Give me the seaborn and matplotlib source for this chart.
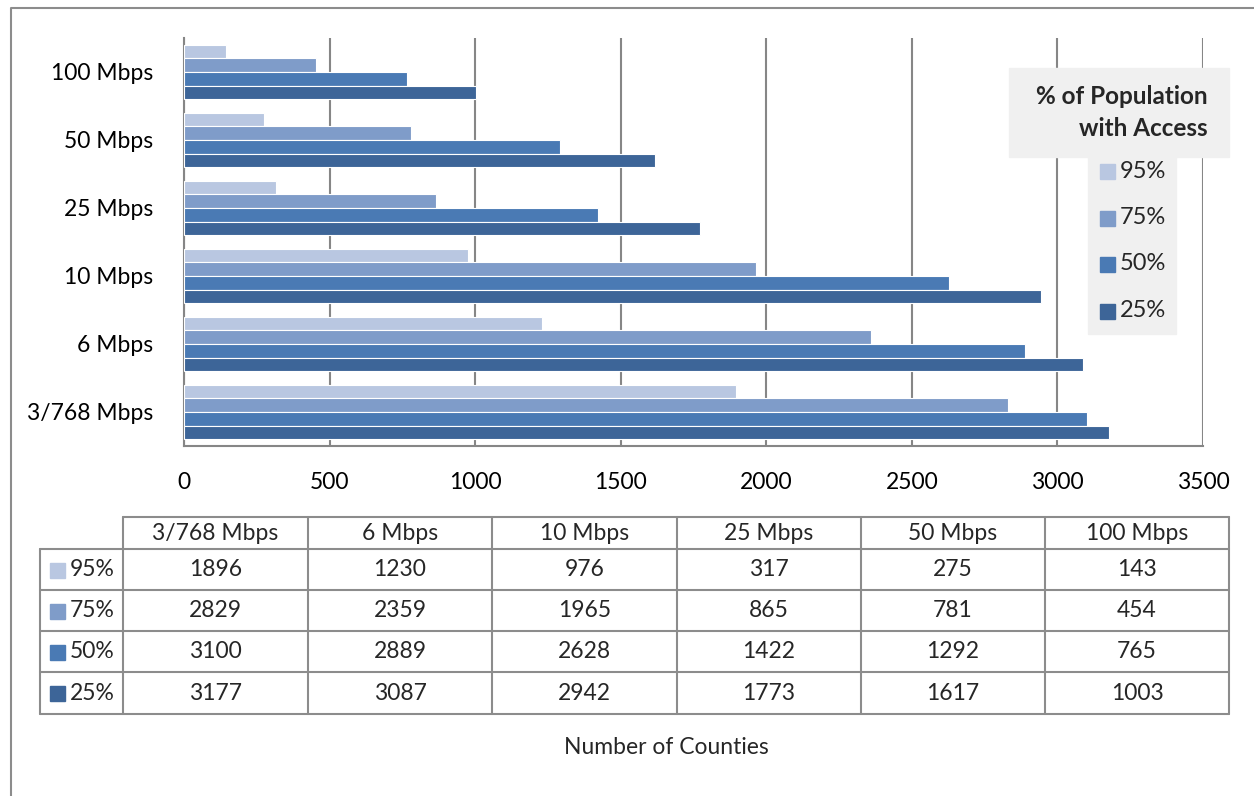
import matplotlib
matplotlib.use("Agg")
from matplotlib import pyplot as plt
from matplotlib.patches import Rectangle
import pandas as pd
import seaborn as sns

speeds = ["3/768 Mbps", "6 Mbps", "10 Mbps", "25 Mbps", "50 Mbps", "100 Mbps"]
levels = ["95%", "75%", "50%", "25%"]
counts_95 = [1896, 1230, 976, 317, 275, 143]
counts_75 = [2829, 2359, 1965, 865, 781, 454]
counts_50 = [3100, 2889, 2628, 1422, 1292, 765]
counts_25 = [3177, 3087, 2942, 1773, 1617, 1003]
colors = ["#B9C7E1", "#7F9CC9", "#4A7AB4", "#3D6598"]
x_ticks = [0, 500, 1000, 1500, 2000, 2500, 3000, 3500]

series = {"95%": counts_95, "75%": counts_75, "50%": counts_50, "25%": counts_25}
rows = []
for lvl in levels:
    for sp, v in zip(speeds, series[lvl]):
        rows.append({"speed": sp, "level": lvl, "counties": v})
df = pd.DataFrame(rows)

sns.set_style("white")
plt.rcParams["font.family"] = ["Lato", "DejaVu Sans"]
fs = 16.5

W, H = 1254, 796
fig = plt.figure(figsize=(W / 100, H / 100), dpi=100)
grid_c = "#868686"

# overlay in pixel coords for frame and table
ov = fig.add_axes([0, 0, 1, 1])
ov.set_xlim(0, W)
ov.set_ylim(H, 0)
ov.axis("off")
ov.plot([11, 11, W], [H, 8, 8], color="#8C8C8C", lw=1.5)

ax = fig.add_axes([184 / W, 1 - 446 / H, (1203 - 184) / W, (446 - 38) / H])
sns.barplot(data=df, y="speed", x="counties", hue="level", order=speeds[::-1],
            hue_order=levels, palette=colors, saturation=1, orient="h", width=0.8,
            edgecolor="white", linewidth=0.8, ax=ax, legend=False, zorder=3)
ax.set_xlim(0, 3500)
ax.set_xticks(x_ticks)
ax.grid(axis="x", color=grid_c, lw=1.5, zorder=0)
ax.set_axisbelow(True)
for s in ["top", "right"]:
    ax.spines[s].set_visible(False)
for s in ["left", "bottom"]:
    ax.spines[s].set_color(grid_c)
    ax.spines[s].set_linewidth(1.5)
ax.tick_params(axis="x", length=0, pad=19, labelsize=fs, colors="black")
ax.tick_params(axis="y", length=0, pad=22, labelsize=fs, colors="black")
ax.set_xlabel("")
ax.set_ylabel("")

# data table
col_x = [123, 308, 492, 677, 861, 1045, 1229]
row_y = [517, 549, 590, 631, 672, 714]
lab_x0 = 40
tc = "#8C8C8C"
ov.plot([col_x[0], col_x[-1]], [row_y[0], row_y[0]], color=tc, lw=1.5)
for y in row_y[1:]:
    ov.plot([lab_x0, col_x[-1]], [y, y], color=tc, lw=1.5)
for x in col_x:
    ov.plot([x, x], [row_y[0], row_y[-1]], color=tc, lw=1.5)
ov.plot([lab_x0, lab_x0], [row_y[1], row_y[-1]], color=tc, lw=1.5)
for j, sp in enumerate(speeds):
    cx = (col_x[j] + col_x[j + 1]) / 2
    ov.text(cx, (row_y[0] + row_y[1]) / 2, sp, ha="center", va="center", fontsize=fs)
for i, lvl in enumerate(levels):
    cy = (row_y[i + 1] + row_y[i + 2]) / 2
    ov.add_patch(Rectangle((50, cy - 7), 15, 15, color=colors[i]))
    ov.text(70, cy, lvl, ha="left", va="center", fontsize=fs)
    for j, v in enumerate(series[lvl]):
        cx = (col_x[j] + col_x[j + 1]) / 2
        ov.text(cx, cy, str(v), ha="center", va="center", fontsize=fs)

ov.text(666, 748, "Number of Counties", ha="center", va="center", fontsize=fs)

# legend on top of the plot
lg = fig.add_axes([0, 0, 1, 1])
lg.set_xlim(0, W)
lg.set_ylim(H, 0)
lg.axis("off")
lg.add_patch(Rectangle((1009, 68), 220, 89, color="#F0F0F0"))
lg.add_patch(Rectangle((1088, 157), 88, 177, color="#F0F0F0"))
lg.text(1208, 96, "% of Population", ha="right", va="center", fontsize=17.5,
        fontweight="bold")
lg.text(1208, 128, "with Access", ha="right", va="center", fontsize=17.5,
        fontweight="bold")
for i, lvl in enumerate(levels):
    cy = 171 + i * 46.5
    lg.add_patch(Rectangle((1100, cy - 7), 15, 15, color=colors[i]))
    lg.text(1120, cy, lvl, ha="left", va="center", fontsize=17)

fig.savefig("out.png", dpi=100)
